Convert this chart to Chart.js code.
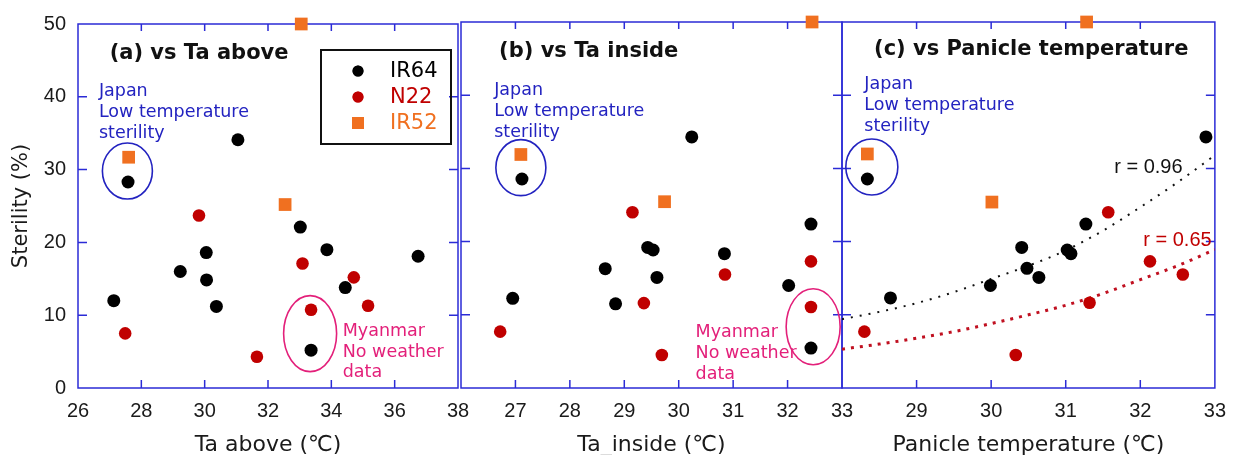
<!DOCTYPE html>
<html>
<head>
<meta charset="utf-8">
<script src="https://cdn.jsdelivr.net/npm/chart.js@4.4.1/dist/chart.umd.min.js"></script>
<style>
body { margin: 0; background: #fff; }
#wrap { position: relative; width: 1237px; height: 455px; }
#wrap canvas { position: absolute; left: 0; top: 0; }
</style>
</head>
<body>
<div id="wrap">
<canvas id="chartA" width="1237" height="455"></canvas>
<canvas id="chartB" width="1237" height="455"></canvas>
<canvas id="chartC" width="1237" height="455"></canvas>
</div>
<script>
var series = ['IR64', 'N22', 'IR52'];

// (a) vs Ta above
var aIR64X = [27.13, 27.58, 29.23, 30.05, 30.06, 30.37, 31.05, 33.02, 33.86, 33.36, 34.44, 36.74];
var aIR64Y = [12.0, 28.3, 16.0, 18.6, 14.85, 11.2, 34.1, 22.1, 19.0, 5.2, 13.8, 18.1];
var aN22X = [27.49, 29.82, 31.65, 33.09, 33.36, 34.71, 35.16];
var aN22Y = [7.5, 23.7, 4.3, 17.1, 10.75, 15.2, 11.3];
var aIR52X = [27.6, 32.54, 33.05];
var aIR52Y = [31.7, 25.2, 50];

// (b) vs Ta inside
var bIR64X = [26.95, 27.12, 28.65, 28.84, 29.43, 29.53, 29.6, 30.24, 30.84, 32.02, 32.43, 32.43];
var bIR64Y = [12.25, 28.55, 16.3, 11.5, 19.2, 18.85, 15.1, 34.3, 18.35, 14.0, 22.4, 5.46];
var bN22X = [26.72, 29.15, 29.36, 29.69, 30.85, 32.43, 32.43];
var bN22Y = [7.7, 24.0, 11.6, 4.5, 15.5, 17.3, 11.07];
var bIR52X = [27.1, 29.74, 32.45];
var bIR52Y = [31.9, 25.45, 50];

// (c) vs Panicle temperature
var cIR64X = [28.34, 28.65, 29.99, 30.41, 30.48, 30.64, 31.02, 31.07, 31.27, 32.88];
var cIR64Y = [28.55, 12.3, 14.0, 19.2, 16.35, 15.1, 18.85, 18.35, 22.4, 34.3];
var cN22X = [28.3, 30.33, 31.32, 31.57, 32.13, 32.57];
var cN22Y = [7.7, 4.5, 11.65, 24.0, 17.3, 15.5];
var cIR52X = [28.34, 30.01, 31.28];
var cIR52Y = [31.97, 25.4, 50];

// trend curves
var trendX = [28, 28.5, 29, 29.5, 30, 30.5, 31, 31.5, 32, 32.5, 33];
var trendIR64 = [9.4, 10.4, 11.6, 13.1, 14.9, 16.7, 18.8, 21.5, 24.7, 28.1, 31.8];
var trendN22 = [5.3, 6.0, 6.8, 7.7, 8.8, 10.0, 11.3, 12.9, 14.8, 16.7, 18.9];

// axes
var yTicks = [0, 10, 20, 30, 40, 50];
var xTicksA = [26, 28, 30, 32, 34, 36, 38];
var xLabelsA = ['26', '28', '30', '32', '34', '36', '38'];
var xTicksB = [26, 27, 28, 29, 30, 31, 32, 33];
var xLabelsB = ['', '27', '28', '29', '30', '31', '32', '33'];
var xTicksC = [28, 29, 30, 31, 32, 33];
var xLabelsC = ['', '29', '30', '31', '32', '33'];

var frameColor = '#2b2bd6';
var noteBlue = '#2323c0';
var notePink = '#e3207a';
var colors = { IR64: '#000000', N22: '#c00000', IR52: '#f07020' };

function pts(xs, ys) {
    return xs.map(function(x, i) { return { x: x, y: ys[i] }; });
}

function scatterSets(ir64x, ir64y, n22x, n22y, ir52x, ir52y) {
    return [
        { label: series[0], data: pts(ir64x, ir64y), pointStyle: 'circle', pointRadius: 6.5,
          backgroundColor: colors.IR64, borderWidth: 0, clip: false },
        { label: series[1], data: pts(n22x, n22y), pointStyle: 'circle', pointRadius: 6.3,
          backgroundColor: colors.N22, borderWidth: 0, clip: false },
        { label: series[2], data: pts(ir52x, ir52y), pointStyle: 'rect', pointRadius: 9,
          backgroundColor: colors.IR52, borderWidth: 0, clip: false }
    ];
}

function makeDecor(cfg) {
    return {
        id: 'decor',
        beforeDatasetsDraw: function(chart) {
            var ctx = chart.ctx, a = chart.chartArea, xs = chart.scales.x, ys = chart.scales.y;
            ctx.save();
            ctx.strokeStyle = frameColor;
            ctx.lineWidth = 1.5;
            ctx.strokeRect(a.left, a.top, a.right - a.left, a.bottom - a.top);
            ctx.beginPath();
            xs.ticks.forEach(function(t) {
                var p = xs.getPixelForValue(t.value);
                if (p <= a.left + 1 || p >= a.right - 1) return;
                ctx.moveTo(p, a.bottom); ctx.lineTo(p, a.bottom - 8);
                ctx.moveTo(p, a.top); ctx.lineTo(p, a.top + 7);
            });
            ys.ticks.forEach(function(t) {
                var p = ys.getPixelForValue(t.value);
                if (p <= a.top + 1 || p >= a.bottom - 1) return;
                ctx.moveTo(a.left, p); ctx.lineTo(a.left + 9, p);
                ctx.moveTo(a.right, p); ctx.lineTo(a.right - 9, p);
            });
            ctx.stroke();
            ctx.restore();
        },
        afterDatasetsDraw: function(chart) {
            var ctx = chart.ctx, a = chart.chartArea, xs = chart.scales.x, ys = chart.scales.y;
            ctx.save();
            (cfg.ellipses || []).forEach(function(e) {
                ctx.beginPath();
                ctx.strokeStyle = e.color;
                ctx.lineWidth = 1.6;
                ctx.ellipse(xs.getPixelForValue(e.x), ys.getPixelForValue(e.y), e.rx, e.ry, 0, 0, Math.PI * 2);
                ctx.stroke();
            });
            (cfg.texts || []).forEach(function(t) {
                ctx.font = t.font;
                ctx.fillStyle = t.color;
                ctx.textAlign = 'left';
                ctx.textBaseline = 'middle';
                var px = xs.getPixelForValue(t.x), py = ys.getPixelForValue(t.y);
                t.lines.forEach(function(line, i) {
                    ctx.fillText(line, px, py + i * (t.gap || 0));
                });
            });
            if (cfg.legend) {
                var bx = a.right - 137, by = a.top + 26;
                ctx.lineWidth = 2;
                ctx.strokeStyle = '#111';
                ctx.strokeRect(bx, by, 130, 94);
                chart.data.datasets.forEach(function(ds, i) {
                    var yy = by + 21 + i * 26;
                    ctx.fillStyle = ds.backgroundColor;
                    Chart.helpers.drawPoint(ctx, { pointStyle: ds.pointStyle,
                        radius: ds.pointStyle === 'rect' ? 8.5 : 5.5, rotation: 0, borderWidth: 0 }, bx + 37, yy);
                    ctx.fill();
                    ctx.font = '21px "DejaVu Sans"';
                    ctx.textAlign = 'left';
                    ctx.textBaseline = 'middle';
                    ctx.fillStyle = ds.backgroundColor;
                    ctx.fillText(ds.label, bx + 69, yy + 1);
                });
            }
            ctx.restore();
        }
    };
}

function makeChart(id, datasets, xMin, xMax, xTicks, xLabels, xTitle, padLeft, padRight, showY, decor) {
    return new Chart(document.getElementById(id), {
        type: 'scatter',
        data: { datasets: datasets },
        options: {
            responsive: false,
            animation: false,
            devicePixelRatio: 1,
            events: [],
            layout: { padding: { left: padLeft, right: padRight, top: 22, bottom: 0 }, autoPadding: false },
            plugins: { legend: { display: false }, tooltip: { enabled: false } },
            scales: {
                x: {
                    type: 'linear', min: xMin, max: xMax,
                    afterBuildTicks: function(s) { s.ticks = xTicks.map(function(v) { return { value: v }; }); },
                    ticks: {
                        callback: function(v, i) { return xLabels[i]; },
                        color: '#1a1a1a', font: { family: 'Liberation Sans', size: 20 },
                        padding: 11, maxRotation: 0, autoSkip: false
                    },
                    grid: { display: false, drawTicks: false },
                    border: { display: false },
                    title: { display: true, text: xTitle, color: '#1a1a1a',
                             font: { family: 'DejaVu Sans', size: 22, lineHeight: 1 },
                             padding: { top: 0, bottom: -1 } },
                    afterFit: function(s) { s.height = 67; }
                },
                y: {
                    type: 'linear', min: 0, max: 50,
                    afterBuildTicks: function(s) { s.ticks = yTicks.map(function(v) { return { value: v }; }); },
                    ticks: { display: showY, color: '#1a1a1a', font: { family: 'Liberation Sans', size: 20 }, padding: 12 },
                    grid: { display: false, drawTicks: false },
                    border: { display: false },
                    title: { display: showY, text: 'Sterility (%)', color: '#1a1a1a',
                             font: { family: 'DejaVu Sans', size: 21, lineHeight: 1 },
                             padding: { top: 11, bottom: 0 } },
                    afterFit: function(s) { s.width = showY ? 78 : 0; }
                }
            }
        },
        plugins: [decor]
    });
}

var titleFont = 'bold 21px "DejaVu Sans"';
var noteFont = '17.5px "DejaVu Sans"';
var rFont = '20px "Liberation Sans"';
var japan = ['Japan', 'Low temperature', 'sterility'];
var myanmar = ['Myanmar', 'No weather', 'data'];

makeChart('chartA', scatterSets(aIR64X, aIR64Y, aN22X, aN22Y, aIR52X, aIR52Y),
    26, 38, xTicksA, xLabelsA, 'Ta above (\u2103)', 0, 779, true,
    makeDecor({
        legend: true,
        ellipses: [
            { x: 27.56, y: 29.8, rx: 25, ry: 28, color: noteBlue },
            { x: 33.33, y: 7.47, rx: 26.5, ry: 38, color: notePink }
        ],
        texts: [
            { x: 27.0, y: 45.9, lines: ['(a) vs Ta above'], font: titleFont, color: '#111' },
            { x: 26.66, y: 40.7, lines: japan, gap: 21, font: noteFont, color: noteBlue },
            { x: 34.36, y: 7.75, lines: myanmar, gap: 20.5, font: noteFont, color: notePink }
        ]
    }));

makeChart('chartB', scatterSets(bIR64X, bIR64Y, bN22X, bN22Y, bIR52X, bIR52Y),
    26, 33, xTicksB, xLabelsB, 'Ta_inside (\u2103)', 461, 395, false,
    makeDecor({
        ellipses: [
            { x: 27.1, y: 30.1, rx: 25, ry: 28, color: noteBlue },
            { x: 32.47, y: 8.37, rx: 27, ry: 38, color: notePink }
        ],
        texts: [
            { x: 26.70, y: 45.9, lines: ['(b) vs Ta inside'], font: titleFont, color: '#111' },
            { x: 26.61, y: 40.7, lines: japan, gap: 21, font: noteFont, color: noteBlue },
            { x: 30.31, y: 7.65, lines: myanmar, gap: 21, font: noteFont, color: notePink }
        ]
    }));

var setsC = scatterSets(cIR64X, cIR64Y, cN22X, cN22Y, cIR52X, cIR52Y);
setsC.push({ label: 'IR64 trend', data: pts(trendX, trendIR64), showLine: true, pointRadius: 0,
    borderColor: '#111', borderWidth: 2, borderDash: [2, 7], tension: 0.4, cubicInterpolationMode: 'monotone' });
setsC.push({ label: 'N22 trend', data: pts(trendX, trendN22), showLine: true, pointRadius: 0,
    borderColor: '#c01020', borderWidth: 3, borderDash: [3, 6], tension: 0.4, cubicInterpolationMode: 'monotone' });

makeChart('chartC', setsC,
    28, 33, xTicksC, xLabelsC, 'Panicle temperature (\u2103)', 842, 12, false,
    makeDecor({
        ellipses: [
            { x: 28.4, y: 30.2, rx: 26, ry: 28, color: noteBlue }
        ],
        texts: [
            { x: 28.43, y: 46.2, lines: ['(c) vs Panicle temperature'], font: titleFont, color: '#111' },
            { x: 28.3, y: 41.4, lines: japan, gap: 21, font: noteFont, color: noteBlue },
            { x: 31.65, y: 30.1, lines: ['r = 0.96'], font: rFont, color: '#111' },
            { x: 32.04, y: 20.1, lines: ['r = 0.65'], font: rFont, color: '#c00000' }
        ]
    }));
</script>
</body>
</html>
